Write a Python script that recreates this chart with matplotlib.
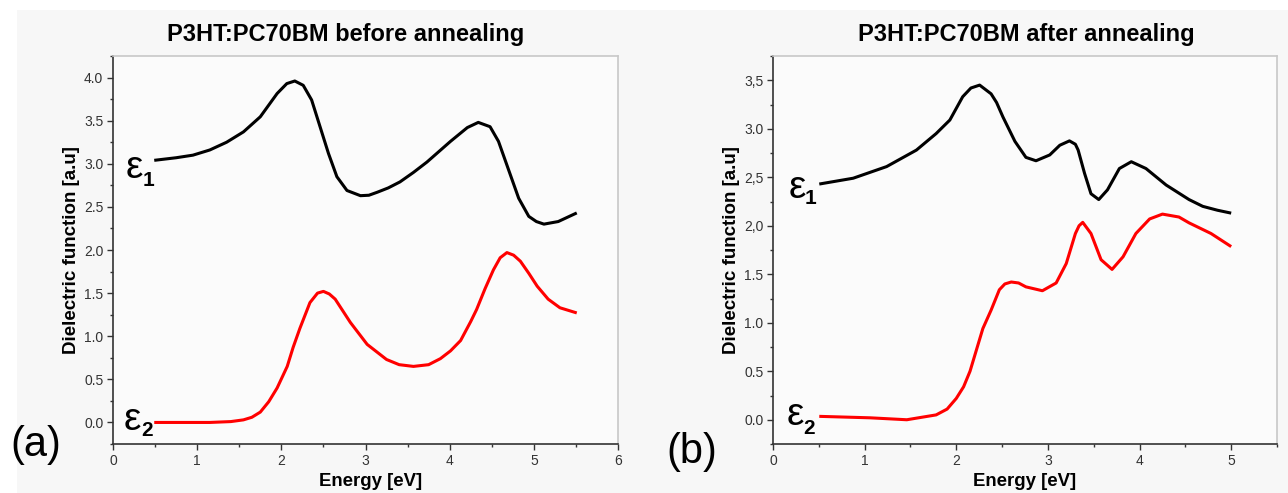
import numpy as np
import matplotlib
matplotlib.use("Agg")
import matplotlib.pyplot as plt
from matplotlib.patches import Rectangle
from matplotlib.ticker import MultipleLocator

plt.rcParams['font.family'] = ['Liberation Sans', 'DejaVu Sans']

# (a) before annealing
before_e1_x = [0.49, 0.75, 0.95, 1.15, 1.35, 1.55, 1.75, 1.85, 1.95, 2.065, 2.16, 2.26, 2.36, 2.46,
               2.56, 2.66, 2.78, 2.94, 3.04, 3.14, 3.27, 3.41, 3.57, 3.73, 3.87, 4.01, 4.11, 4.21,
               4.34, 4.48, 4.58, 4.70, 4.82, 4.94, 5.03, 5.12, 5.29, 5.40, 5.51]
before_e1_y = [3.04, 3.07, 3.10, 3.16, 3.25, 3.37, 3.545, 3.68, 3.815, 3.93, 3.96, 3.91, 3.74, 3.43,
               3.12, 2.85, 2.69, 2.63, 2.635, 2.67, 2.72, 2.79, 2.90, 3.02, 3.14, 3.26, 3.34, 3.42,
               3.48, 3.43, 3.26, 2.93, 2.60, 2.39, 2.33, 2.30, 2.33, 2.38, 2.43]
before_e2_x = [0.49, 0.8, 1.15, 1.4, 1.55, 1.65, 1.75, 1.85, 1.95, 2.07, 2.14, 2.22, 2.34, 2.43,
               2.50, 2.57, 2.64, 2.82, 3.02, 3.25, 3.40, 3.57, 3.75, 3.89, 4.01, 4.13, 4.25, 4.32,
               4.42, 4.52, 4.60, 4.68, 4.76, 4.84, 4.94, 5.04, 5.17, 5.31, 5.51]
before_e2_y = [0.0, 0.0, 0.0, 0.01, 0.03, 0.06, 0.12, 0.24, 0.40, 0.65, 0.87, 1.09, 1.39, 1.50,
               1.52, 1.49, 1.43, 1.16, 0.905, 0.73, 0.67, 0.65, 0.67, 0.74, 0.83, 0.95, 1.17, 1.31,
               1.55, 1.77, 1.91, 1.97, 1.94, 1.87, 1.73, 1.58, 1.43, 1.33, 1.27]

# (b) after annealing
after_e1_x = [0.505, 0.875, 1.24, 1.565, 1.78, 1.93, 2.00, 2.07, 2.16, 2.255, 2.38, 2.44, 2.51,
              2.64, 2.76, 2.87, 3.02, 3.13, 3.235, 3.30, 3.33, 3.40, 3.47, 3.555, 3.65, 3.78, 3.91,
              4.07, 4.29, 4.54, 4.69, 4.85, 5.00]
after_e1_y = [2.43, 2.49, 2.61, 2.78, 2.95, 3.09, 3.21, 3.33, 3.42, 3.45, 3.36, 3.27, 3.12,
              2.87, 2.705, 2.67, 2.73, 2.83, 2.875, 2.84, 2.78, 2.54, 2.33, 2.27, 2.37, 2.59, 2.66,
              2.59, 2.42, 2.27, 2.20, 2.16, 2.13]
after_e2_x = [0.505, 1.06, 1.46, 1.78, 1.90, 2.00, 2.08, 2.15, 2.22, 2.29, 2.38, 2.47, 2.53,
              2.60, 2.68, 2.76, 2.94, 3.09, 3.20, 3.30, 3.34, 3.38, 3.47, 3.58, 3.70, 3.82, 3.96,
              4.11, 4.25, 4.43, 4.54, 4.78, 5.00]
after_e2_y = [0.035, 0.02, 0.0, 0.05, 0.11, 0.22, 0.34, 0.50, 0.72, 0.94, 1.13, 1.34, 1.40,
              1.42, 1.41, 1.37, 1.33, 1.41, 1.61, 1.92, 2.00, 2.035, 1.92, 1.65, 1.55, 1.68, 1.92,
              2.07, 2.12, 2.09, 2.03, 1.92, 1.785]

titles = ["P3HT:PC70BM before annealing", "P3HT:PC70BM after annealing"]
left_yticks = [0.0, 0.5, 1.0, 1.5, 2.0, 2.5, 3.0, 3.5, 4.0]
left_ylabels = ["0.0", "0.5", "1.0", "1.5", "2.0", "2.5", "3.0", "3.5", "4.0"]
right_yticks = [0.0, 0.5, 1.0, 1.5, 2.0, 2.5, 3.0, 3.5]
right_ylabels = ["0.0", "0.5", "1.0", "1.5", "2,0", "2,5", "3.0", "3,5"]

W, H = 1288, 493
fig = plt.figure(figsize=(W / 100, H / 100), dpi=100, facecolor='white')
fig.patches.append(Rectangle((17 / W, 0), 1, 1 - 10 / H, transform=fig.transFigure,
                             facecolor='#f7f7f7', edgecolor='none', zorder=-10))


def px(x, y):
    return x / W, 1 - y / H


ax1 = fig.add_axes([113 / W, 1 - 444 / H, (618 - 113) / W, (444 - 56) / H])
ax2 = fig.add_axes([773 / W, 1 - 444 / H, (1277 - 773) / W, (444 - 56) / H])

setup = [
    (ax1, before_e1_x, before_e1_y, before_e2_x, before_e2_y, (0, 6), (-0.25, 4.25),
     left_yticks, left_ylabels, range(0, 7)),
    (ax2, after_e1_x, after_e1_y, after_e2_x, after_e2_y, (0, 5.5), (-0.25, 3.75),
     right_yticks, right_ylabels, range(0, 6)),
]

for ax, x1, y1, x2, y2, xlim, ylim, yt, ytl, xt in setup:
    ax.set_facecolor('#fbfbfb')
    ax.plot(x1, y1, color='black', lw=2.2, solid_capstyle='butt', solid_joinstyle='round')
    ax.plot(x2, y2, color='#ff0000', lw=2.2, solid_capstyle='butt', solid_joinstyle='round')
    ax.set_xlim(*xlim)
    ax.set_ylim(*ylim)
    ax.set_yticks(yt)
    ax.set_yticklabels(ytl)
    ax.set_xticks(list(xt))
    ax.xaxis.set_minor_locator(MultipleLocator(0.5))
    ax.yaxis.set_minor_locator(MultipleLocator(0.25))
    ax.tick_params(which='both', direction='out', colors='#333333', labelsize=10, width=1)
    ax.tick_params(which='major', length=4, pad=3)
    ax.tick_params(which='minor', length=2.5)
    for s in ['left', 'bottom']:
        ax.spines[s].set_color('#333333')
        ax.spines[s].set_linewidth(1.2)
    for s in ['top', 'right']:
        ax.spines[s].set_color('#c8c8c8')
        ax.spines[s].set_linewidth(1.2)
    ax.set_xlabel("Energy [eV]", fontsize=13.4, fontweight='bold', labelpad=4)
    ax.set_ylabel("Dielectric function [a.u]", fontsize=13.5, fontweight='bold', labelpad=3)

# the left x label sits a little right of centre in the original
ax1.xaxis.label.set_x((371 - 113) / 505)

# titles
fig.text(*px(346, 35), titles[0], ha='center', va='center', fontsize=17, fontweight='bold')
fig.text(*px(1026, 35), titles[1], ha='center', va='center', fontsize=17, fontweight='bold')

# epsilon labels
eps_pos = [((134, 168), (148, 181), "1"), ((132, 420), (147, 431), "2"),
           ((797, 188), (811, 199), "1"), ((795, 415), (809, 428), "2")]
for (ex, ey), (sx, sy), sub in eps_pos:
    fig.text(*px(ex, ey), "ε", ha='center', va='center', fontsize=28)
    fig.text(*px(sx, sy), sub, ha='center', va='center', fontsize=15, fontweight='bold')

# panel letters
fig.text(*px(36, 445), "(a)", ha='center', va='center', fontsize=30)
fig.text(*px(692, 452), "(b)", ha='center', va='center', fontsize=30)

fig.savefig("out.png", dpi=100, facecolor=fig.get_facecolor())
